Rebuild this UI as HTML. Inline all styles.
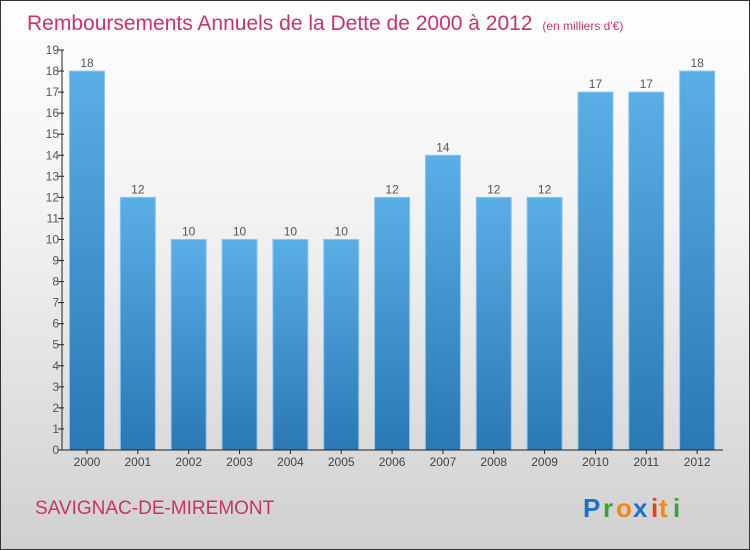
<!DOCTYPE html>
<html><head><meta charset="utf-8"><style>
html,body{margin:0;padding:0}
body{width:750px;height:550px;overflow:hidden;font-family:"Liberation Sans",sans-serif}
#wrap{position:absolute;left:0;top:0;width:748px;height:548px;border:1px solid #333;background:linear-gradient(#ffffff 0%,#f2f2f2 40%,#d0d0d0 100%)}
</style></head><body>
<div id="wrap">
<svg id="chart" width="748" height="548" style="position:absolute;left:0;top:0">
<defs><linearGradient id="bg" x1="0" y1="0" x2="0" y2="1"><stop offset="0" stop-color="#5aaee6"/><stop offset="1" stop-color="#2a78b4"/></linearGradient></defs>
<text x="26" y="29" font-size="21" fill="#c8336a">Remboursements Annuels de la Dette de 2000 à 2012 <tspan font-size="12" dx="4">(en milliers d'€)</tspan></text>
<text x="34" y="513" font-size="19" fill="#c8336a">SAVIGNAC-DE-MIREMONT</text>
<g font-size="26" font-weight="bold" font-family="'Liberation Sans',sans-serif">
<text x="582" y="516" fill="#1a73c9">P</text><text x="602" y="516" fill="#3aa03a">r</text><text x="615" y="516" fill="#f08a10">o</text><text x="632" y="516" fill="#1a73c9">x</text><text x="650" y="516" fill="#e8401a">i</text><text x="658" y="516" fill="#f08a10">t</text><text x="672" y="516" fill="#3aa03a">i</text>
</g>
<g id="plot"></g>
</svg>
</div>
<script>
const categories=["2000","2001","2002","2003","2004","2005","2006","2007","2008","2009","2010","2011","2012"];
const values=[18,12,10,10,10,10,12,14,12,12,17,17,18];
const yTicks=[0,1,2,3,4,5,6,7,8,9,10,11,12,13,14,15,16,17,18,19];
const NS="http://www.w3.org/2000/svg";
const g=document.getElementById('plot');
const x0=61,x1=722,y0=449,yTop=49,yMax=19;
const band=(x1-x0)/categories.length;
function y(v){return y0-(v/yMax)*(y0-yTop);}
function xb(i){return x0+i*band;}
function mk(t,a,txt){const e=document.createElementNS(NS,t);for(const k in a)e.setAttribute(k,a[k]);if(txt!=null)e.textContent=txt;g.appendChild(e);return e;}
values.forEach((v,i)=>{
 const r=mk('rect',{x:xb(i)+7.5,y:y(v),width:35,height:y0-y(v),fill:'url(#bg)',stroke:'#8cc6ee','stroke-width':1});
 
 
 const t=mk('text',{x:xb(i)+25,y:y(v)-4,'font-size':12,fill:'#555','text-anchor':'middle'},String(v));
 
 
 const c=mk('text',{x:xb(i)+25,y:y0+16,'font-size':12,fill:'#444','text-anchor':'middle'},categories[i]);
 
 
 const tk=mk('line',{x1:xb(i)+25,x2:xb(i)+25,y1:y0,y2:y0+4,stroke:'#222'});
 
 
});
yTicks.forEach(v=>{
 const l=mk('line',{x1:x0-4,x2:x0+2,y1:y(v),y2:y(v),stroke:'#222'});
 
 
 const t=mk('text',{x:x0-3,y:y(v)+4,'font-size':12,fill:'#555','text-anchor':'end'},String(v));
 
 
});
const ya=mk('line',{x1:x0,x2:x0,y1:yTop,y2:y0,stroke:'#222'});


const xa=mk('line',{x1:x0,x2:x1,y1:y0,y2:y0,stroke:'#222'});


</script>
</body></html>
